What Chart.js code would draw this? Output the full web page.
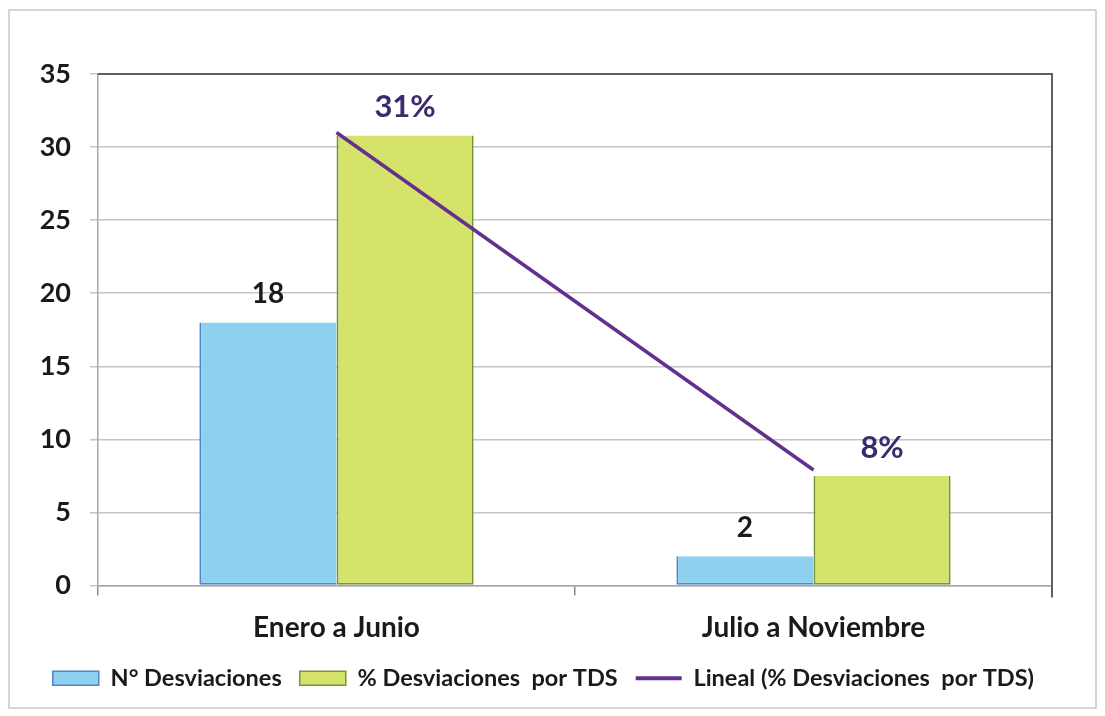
<!DOCTYPE html>
<html><head><meta charset="utf-8">
<script src="https://cdn.jsdelivr.net/npm/chart.js@4.4.1/dist/chart.umd.min.js"></script>
<style>html,body{margin:0;padding:0;background:#fff;} #wrap{position:relative;width:1105px;height:716px;}</style>
</head><body><div id="wrap"><canvas id="c" width="1105" height="716"></canvas></div>
<script>
const categories = ['Enero a Junio', 'Julio a Noviembre'];
const seriesNames = ['N° Desviaciones', '% Desviaciones  por TDS', 'Lineal (% Desviaciones  por TDS)'];
const desviaciones = [18, 2];
const pctDesviaciones = [30.8, 7.5];
const tendencia = [31.0, 7.9];
const desviacionesLabels = ['18', '2'];
const pctLabels = ['31%', '8%'];
const yMin = 0, yMax = 35, yStep = 5;

const FONT = 'Lato, "Open Sans", sans-serif';

const framePlugin = {
  id: 'frame',
  beforeDraw(chart) {
    const ctx = chart.ctx;
    ctx.save();
    ctx.fillStyle = '#ffffff';
    ctx.fillRect(0, 0, chart.width, chart.height);
    ctx.restore();
  },
  afterDraw(chart) {
    const ctx = chart.ctx, a = chart.chartArea;
    ctx.save();
    ctx.strokeStyle = '#c8c8c8';
    ctx.lineWidth = 1.5;
    ctx.strokeRect(9, 10, 1087, 698);
    ctx.strokeStyle = '#5f5f5f';
    ctx.lineWidth = 2;
    ctx.beginPath();
    ctx.moveTo(a.left, a.top);
    ctx.lineTo(a.right, a.top);
    ctx.lineTo(a.right, a.bottom + 12);
    ctx.stroke();
    ctx.restore();
  }
};

const labelPlugin = {
  id: 'barLabels',
  afterDatasetsDraw(chart) {
    const ctx = chart.ctx;
    const sets = [
      {idx: 0, labels: desviacionesLabels, color: '#1a1a1a', size: 28},
      {idx: 1, labels: pctLabels, color: '#3b2a6e', size: 31}
    ];
    ctx.save();
    ctx.textAlign = 'center';
    ctx.textBaseline = 'middle';
    sets.forEach(s => {
      const meta = chart.getDatasetMeta(s.idx);
      ctx.fillStyle = s.color;
      ctx.font = 'bold ' + s.size + 'px ' + FONT;
      meta.data.forEach((bar, i) => {
        ctx.fillText(s.labels[i], bar.x, bar.y - 28);
      });
    });
    ctx.restore();
  }
};

new Chart(document.getElementById('c'), {
  data: {
    labels: categories,
    datasets: [
      {
        type: 'bar', label: seriesNames[0], data: desviaciones,
        backgroundColor: '#8dd0f0', borderColor: '#4f86c6',
        borderWidth: {left: 2, right: 0, top: 0, bottom: 2}, borderSkipped: false,
        categoryPercentage: 0.575, barPercentage: 1.0, order: 1
      },
      {
        type: 'bar', label: seriesNames[1], data: pctDesviaciones,
        backgroundColor: '#d5e36b', borderColor: '#76953a',
        borderWidth: {left: 2, right: 2, top: 0, bottom: 2}, borderSkipped: false,
        categoryPercentage: 0.575, barPercentage: 1.0, order: 2
      },
      {
        type: 'line', label: seriesNames[2], data: tendencia,
        borderColor: '#64308e', backgroundColor: '#64308e', borderWidth: 3.5,
        pointRadius: 0, tension: 0, fill: false, order: 0
      }
    ]
  },
  options: {
    responsive: false, animation: false, devicePixelRatio: 1,
    layout: {padding: {left: 0, right: 53, top: 74, bottom: 16}},
    plugins: {
      tooltip: {enabled: false},
      legend: {
        position: 'bottom',
        align: 'end',
        labels: {
          usePointStyle: true, pointStyleWidth: 46, boxHeight: 14, padding: 18,
          color: '#1a1a1a',
          font: {family: FONT, size: 23.5, weight: 'bold'},
          generateLabels(chart) {
            return chart.data.datasets.map((ds, i) => ({
              text: ds.label,
              fillStyle: ds.backgroundColor,
              strokeStyle: ds.borderColor,
              lineWidth: i === 2 ? 4 : 1.5,
              pointStyle: i === 2 ? 'line' : 'rect',
              fontColor: '#1a1a1a',
              hidden: false,
              datasetIndex: i
            }));
          }
        }
      }
    },
    scales: {
      x: {
        offset: true,
        afterFit(s) { s.height = 63; },
        grid: {display: true, drawOnChartArea: false, drawTicks: true, tickLength: 10, color: '#8c8c8c', lineWidth: 1.5, offset: true},
        border: {display: true, color: '#a6a6a6', width: 1.5},
        ticks: {color: '#1a1a1a', padding: 16, font: {family: FONT, size: 28, weight: 'bold'}}
      },
      y: {
        min: yMin, max: yMax,
        afterFit(s) { s.width = 98; },
        grid: {color: '#c4c4c4', lineWidth: 1.5, tickLength: 8},
        border: {display: true, color: '#a6a6a6', width: 1.5},
        ticks: {stepSize: yStep, color: '#1a1a1a', padding: 19, font: {family: FONT, size: 27, weight: 'bold'}}
      }
    }
  },
  plugins: [framePlugin, labelPlugin]
});
</script>
</body></html>
